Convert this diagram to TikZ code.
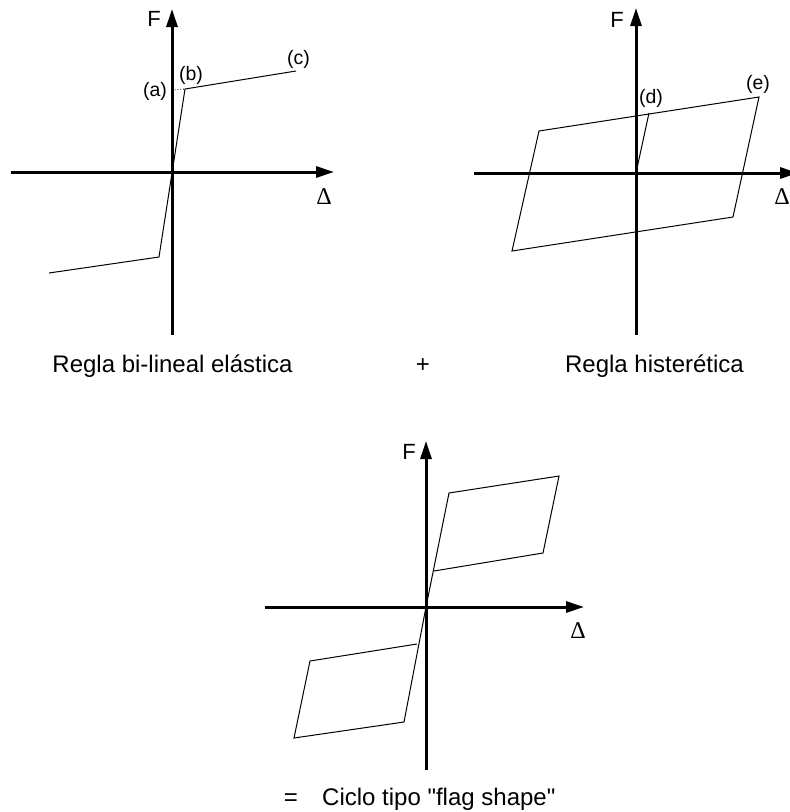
\documentclass[tikz,border=0pt]{standalone}
\usepackage{fontspec}
\setmainfont{Liberation Sans}
\newfontfamily\serifgr{Liberation Serif}
\usetikzlibrary{arrows.meta}
\tikzset{
  axis/.style={line width=3pt,-{Triangle[length=18pt,width=11pt]}},
  curve/.style={line width=1pt,line join=miter},
  lbl/.style={inner sep=0pt,font=\fontsize{19.5}{22}\selectfont},
  flbl/.style={inner sep=0pt,font=\fontsize{22}{26}\selectfont},
  dlbl/.style={inner sep=0pt,font=\fontsize{24}{28}\selectfont\serifgr},
  caption/.style={inner sep=0pt,anchor=base,font=\fontsize{24}{28}\selectfont}
}
\begin{document}
\begin{tikzpicture}[x=1pt,y=-1pt]
\useasboundingbox (0,0) rectangle (790,812);
% ---------- Panel 1: bi-lineal elastica ----------
\coordinate (o1) at (172,172);
\coordinate (x1l) at (11,172);
\coordinate (x1r) at (334,172);
\coordinate (y1b) at (172,335);
\coordinate (y1t) at (172,9);
\draw[axis] (x1l) -- (x1r);
\draw[axis] (y1b) -- (y1t);
\coordinate (p1a) at (49,273);
\coordinate (p1b) at (159,257);
\coordinate (p1c) at (185,89);
\coordinate (p1d) at (296,71);
\coordinate (p1y) at (172,90);
\draw[curve] (p1a) -- (p1b) -- (p1c) -- (p1d);
\draw[line width=0.8pt,dotted] (p1y) -- (p1c);
\node[flbl] (F1) at (154,19) {F};
\node[dlbl] (D1) at (324,197) {Δ};
\node[lbl] (la) at (155,91.5) {(a)};
\node[lbl] (lb) at (191,75.5) {(b)};
\node[lbl] (lc) at (298.5,59.5) {(c)};
% ---------- Panel 2: histeretica ----------
\coordinate (o2) at (636,173);
\coordinate (x2l) at (474,173);
\coordinate (x2r) at (798,173);
\coordinate (y2b) at (636,335);
\coordinate (y2t) at (636,8);
\draw[axis] (x2l) -- (x2r);
\draw[axis] (y2b) -- (y2t);
\coordinate (q1) at (539,131);
\coordinate (q2) at (759,97);
\coordinate (q3) at (733,217);
\coordinate (q4) at (512,251);
\coordinate (qd) at (649,113);
\draw[curve] (q1) -- (q2) -- (q3) -- (q4) -- cycle;
\draw[curve] (o2) -- (qd);
\node[flbl] (F2) at (617,20) {F};
\node[dlbl] (D2) at (782,197) {Δ};
\node[lbl] (ld) at (651,98.5) {(d)};
\node[lbl] (le) at (758,84.5) {(e)};
% ---------- Panel 3: flag shape ----------
\coordinate (o3) at (426,607);
\coordinate (x3l) at (265,607);
\coordinate (x3r) at (584,607);
\coordinate (y3b) at (426,770);
\coordinate (y3t) at (426,441);
\draw[axis] (x3l) -- (x3r);
\draw[axis] (y3b) -- (y3t);
\coordinate (u1) at (449,493);
\coordinate (u2) at (559,476);
\coordinate (u3) at (543,553);
\coordinate (u4) at (434,571);
\coordinate (w1) at (404,722);
\coordinate (w2) at (294,738);
\coordinate (w3) at (310,661);
\coordinate (w4) at (417,644);
\draw[curve] (o3) -- (u1) -- (u2) -- (u3) -- (u4);
\draw[curve] (o3) -- (w1) -- (w2) -- (w3) -- (w4);
\node[flbl] (F3) at (409,452) {F};
\node[dlbl] (D3) at (578,631) {Δ};
% ---------- Captions ----------
\node[caption] (c1) at (172.5,372) {Regla bi-lineal elástica};
\node[caption] (plus) at (423,372) {+};
\node[caption] (c2) at (654.5,372) {Regla histerética};
\node[caption] (eq) at (291,805) {=};
\node[caption,anchor=base west] (c3) at (322,805) {Ciclo tipo \textquotedbl flag shape\textquotedbl};
\end{tikzpicture}
\end{document}
